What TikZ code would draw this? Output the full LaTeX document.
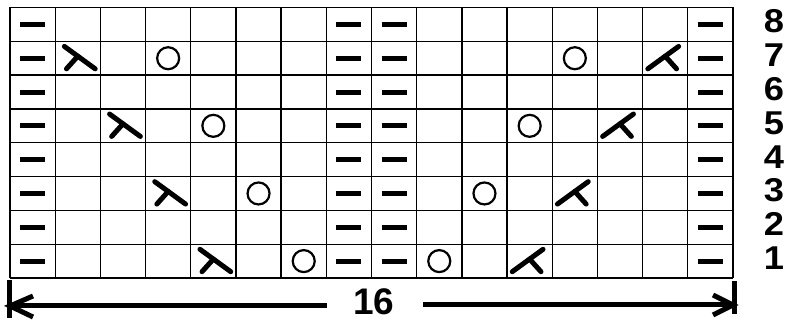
\documentclass[tikz,border=0pt]{standalone}
\usepackage{fontspec}
\setmainfont{Liberation Sans}
\begin{document}
\begin{tikzpicture}[x=1pt,y=-1pt,
  gridline/.style={line width=1.3pt, black},
  purl/.style={line width=5pt},
  sym/.style={line width=5pt, line cap=round},
  yo/.style={line width=2.2pt},
  arr/.style={line width=5pt, line join=miter},
  rownum/.style={anchor=base, inner sep=0pt, font=\fontsize{33}{33}\selectfont\bfseries},
  bignum/.style={anchor=base, inner sep=0pt, font=\fontsize{37}{37}\selectfont\bfseries}]
\useasboundingbox (0,0) rectangle (787,320);
\pgfmathsetmacro\cw{(733-10)/16}
\pgfmathsetmacro\ch{(278-7.5)/8}
% grid
\foreach \i in {0,...,16} {\draw[gridline] ({10+\i*\cw},7.5) -- ({10+\i*\cw},278);}
\foreach \j in {0,...,8} {\draw[gridline] (10,{7.5+\j*\ch}) -- (733,{7.5+\j*\ch});}
% purl dashes
\foreach \c in {1,8,9,16} {\foreach \r in {1,...,8} {
  \draw[purl] ({10+(\c-0.5)*\cw-12.5},{7.5+(8.5-\r)*\ch}) -- ++(25,0);}}
% yarn overs
\foreach \c/\r in {7/1,10/1,6/3,11/3,5/5,12/5,4/7,13/7} {
  \draw[yo] ({10+(\c-0.5)*\cw},{7.5+(8.5-\r)*\ch}) circle[radius=11];}
% left-leaning decreases
\foreach \c/\r in {5/1,4/3,3/5,2/7} {
  \begin{scope}[shift={({10+(\c-0.5)*\cw},{7.5+(8.5-\r)*\ch})}]
    \draw[sym] (-13.4,-11.8) -- (17.4,10.6);
    \draw[sym] (0,-2) -- (-11.3,10.6);
  \end{scope}}
% right-leaning decreases
\foreach \c/\r in {12/1,13/3,14/5,15/7} {
  \begin{scope}[shift={({10+(\c-0.5)*\cw},{7.5+(8.5-\r)*\ch})}]
    \draw[sym] (13.4,-11.8) -- (-17.4,10.6);
    \draw[sym] (0,-2) -- (11.3,10.6);
  \end{scope}}
% row numbers
\foreach \r in {1,...,8} {
  \node[rownum] (row\r) at (774,{7.5+(8.5-\r)*\ch+8.5}) {\scalebox{1.1}[1]{\r}};}
% width label
\node[bignum] (n16) at (374,315) {16};
\coordinate (lt) at (9,280);
\coordinate (lb) at (9,318);
\coordinate (ltip) at (10,306);
\coordinate (lend) at (327,306);
\coordinate (lua) at (33,296);
\coordinate (lla) at (33,317);
\coordinate (rt) at (734,281);
\coordinate (rb) at (734,314);
\coordinate (rtip) at (733,305);
\coordinate (rstart) at (423,305);
\coordinate (rua) at (713,295);
\coordinate (rla) at (713,315);
\draw[arr] (lt) -- (lb);
\draw[arr] (ltip) -- (lend);
\draw[arr] (lua) -- (ltip) -- (lla);
\draw[arr] (rt) -- (rb);
\draw[arr] (rstart) -- (rtip);
\draw[arr] (rua) -- (rtip) -- (rla);
\end{tikzpicture}
\end{document}
